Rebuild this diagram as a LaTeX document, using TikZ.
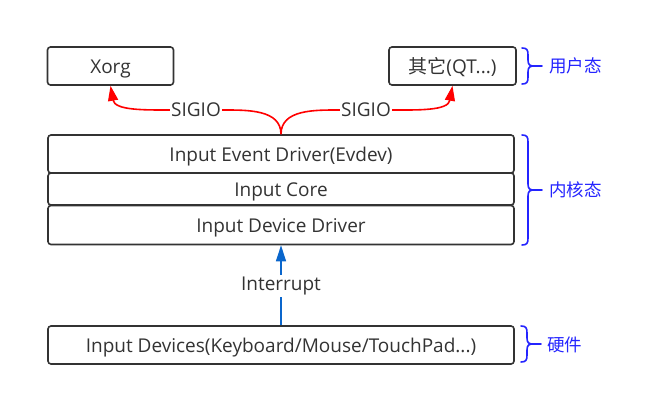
\documentclass[tikz,border=0pt]{standalone}
\usepackage{fontspec}
\setmainfont{Open Sans}
\newfontfamily\cjk{Noto Sans CJK SC}
\usetikzlibrary{arrows.meta}
\definecolor{ink}{HTML}{333333}
\definecolor{sigred}{HTML}{FF0000}
\definecolor{irqblue}{HTML}{0A66CC}
\definecolor{zone}{HTML}{2424FF}
\tikzset{
  x=1pt, y=-1pt,
  box/.style={draw=ink, line width=1.6pt, rounded corners=3pt, text=ink,
    text height=16pt, text depth=1.5pt,
    font=\fontsize{19}{22}\selectfont},
  sigline/.style={draw=sigred, line width=1.6pt},
  sig/.style={sigline, -{Triangle[length=15pt,width=10pt]}},
  siglabel/.style={text=ink, inner sep=1pt, font=\fontsize{19}{22}\selectfont},
  irqline/.style={draw=irqblue, line width=1.6pt},
  irq/.style={irqline, -{Triangle[length=16pt,width=10pt]}},
  zonebrace/.style={draw=zone, line width=1.6pt, line cap=round},
  zonelabel/.style={text=zone, anchor=west, inner sep=0pt,
    font=\cjk\fontsize{17.5}{20}\selectfont},
}
\newcommand{\zonebr}[3]{% x, top y, bottom y
  \pgfmathsetmacro{\mid}{(#2+#3)/2}
  \draw[zonebrace] (#1,#2) .. controls (#1+5,#2) and (#1+6,#2+2) .. (#1+6,#2+7)
    -- (#1+6,\mid-6) .. controls (#1+6,\mid-1) and (#1+8,\mid) .. (#1+12,\mid)
    -- (#1+20,\mid);
  \draw[zonebrace] (#1,#3) .. controls (#1+5,#3) and (#1+6,#3-2) .. (#1+6,#3-7)
    -- (#1+6,\mid+6) .. controls (#1+6,\mid+1) and (#1+8,\mid) .. (#1+12,\mid);
}
\begin{document}
\begin{tikzpicture}
\useasboundingbox (0,0) rectangle (658,396);

% user space
\node[box, minimum width=126pt, minimum height=38pt] (xorg) at (110.5,66) {Xorg};
\node[box, minimum width=127pt, minimum height=38pt] (other) at (452.5,66) {{\cjk 其它}(QT...)};

% kernel stack
\node[box, minimum width=466pt, minimum height=38pt] (evdev) at (281,154) {Input Event Driver(Evdev)};
\node[box, minimum width=466pt, minimum height=32pt] (core) at (281,189) {Input Core};
\node[box, minimum width=466pt, minimum height=39pt] (drv) at (281,225) {Input Device Driver};

% hardware
\node[box, minimum width=466pt, minimum height=38pt] (dev) at (281,345) {Input Devices(Keyboard/Mouse/TouchPad...)};

% SIGIO notifications
\node[siglabel] (sigl) at (196,110) {SIGIO};
\node[siglabel] (sigr) at (366,110) {SIGIO};
\draw[sigline] (evdev.north) to[out=90, in=0] (sigl.east);
\draw[sig] (sigl.west) to[out=180, in=-80] (xorg.south);
\draw[sigline] (evdev.north) to[out=90, in=180] (sigr.west);
\draw[sig] (sigr.east) to[out=0, in=-100] (other.south);

% interrupt
\node[text=ink, font=\fontsize{19}{22}\selectfont, fill=white, inner sep=2pt] (irqlabel) at (281,286) {Interrupt};
\draw[irqline] (dev.north) -- (irqlabel.south);
\draw[irq] (irqlabel.north) -- (drv.south);

% privilege zones
\zonebr{522}{48}{84}
\node[zonelabel] (zuser) at (549,66) {用户态};
\zonebr{522}{135}{245}
\node[zonelabel] (zkernel) at (549,190) {内核态};
\zonebr{521}{326}{362}
\node[zonelabel] (zhw) at (547,345) {硬件};
\end{tikzpicture}
\end{document}
